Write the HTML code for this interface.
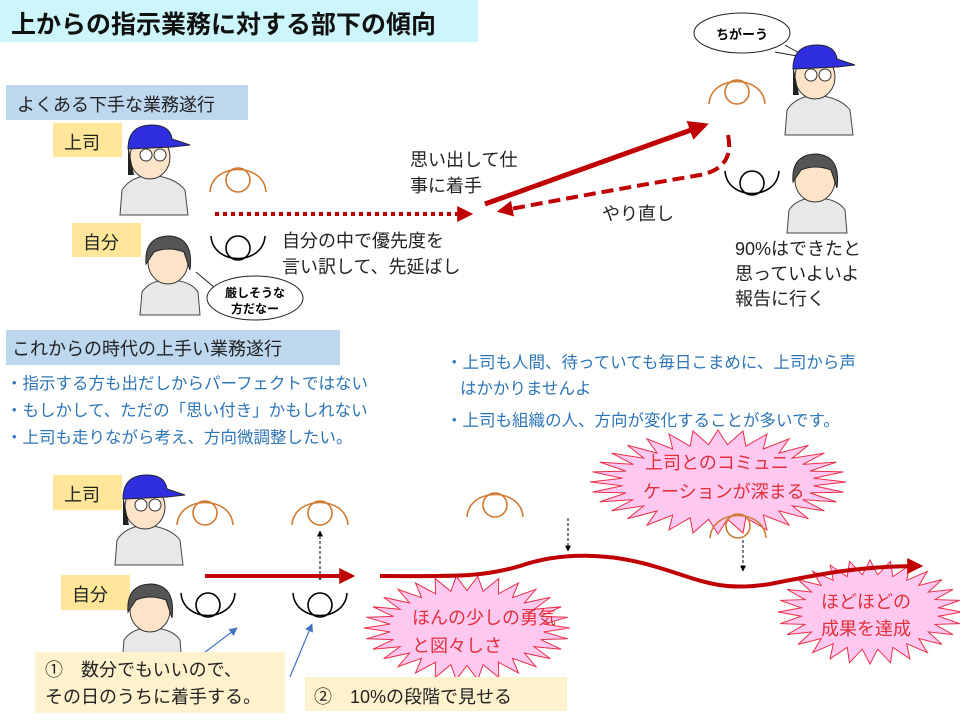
<!DOCTYPE html>
<html><head><meta charset="utf-8">
<style>
body{margin:0;background:#fff;}
svg{display:block;font-family:"Liberation Sans","Noto Sans CJK JP",sans-serif;}
</style></head>
<body>
<svg id="s" width="960" height="720" viewBox="0 0 960 720" xmlns="http://www.w3.org/2000/svg">
<defs>
<marker id="ar" viewBox="0 0 10 10" refX="8" refY="5" markerWidth="4" markerHeight="4" orient="auto"><path d="M0,0L10,5L0,10z" fill="#c00000"/></marker>
<marker id="ak" viewBox="0 0 10 10" refX="9" refY="5" markerWidth="6" markerHeight="6" orient="auto-start-reverse"><path d="M0,0L10,5L0,10z" fill="#000"/></marker>
<marker id="ab" viewBox="0 0 10 10" refX="9" refY="5" markerWidth="7" markerHeight="7" orient="auto"><path d="M0,0L10,5L0,10z" fill="#4472c4"/></marker>
<g id="eyeT" fill="none" stroke="#d07a30" stroke-width="1.6"><circle cx="0" cy="0" r="12"/><path d="M-28,12 C-26,-18 26,-18 28,12"/></g>
<g id="eyeB" fill="none" stroke="#000" stroke-width="1.6"><circle cx="0" cy="0" r="12"/><path d="M-27,-12 C-25,18 25,18 27,-12"/></g>
<g id="boss">
<path d="M-30,80 L-28,55 Q-20,42 0,40 Q25,42 35,55 L38,80 Z" fill="#e8e8e8" stroke="#444"/>
<ellipse cx="0" cy="22" rx="20" ry="22" fill="#fde3c8" stroke="#333"/>
<path d="M-22,14 Q-22,-10 2,-10 Q20,-10 22,4 L40,10 L22,12 Z" fill="#2f2fe0" stroke="#223"/>
<circle cx="-4" cy="20" r="6" fill="#fff" stroke="#333"/><circle cx="10" cy="20" r="6" fill="#fff" stroke="#333"/>
<path d="M-22,10 L-22,40 L-16,40 Z" fill="#222"/>
</g>
<g id="work">
<path d="M-28,75 L-26,52 Q-18,40 0,40 Q22,40 30,52 L32,75 Z" fill="#e8e8e8" stroke="#444"/>
<ellipse cx="0" cy="22" rx="20" ry="22" fill="#fde3c8" stroke="#333"/>
<path d="M-22,24 Q-24,-4 2,-4 Q26,-2 22,30 L16,12 Q0,6 -14,12 Z" fill="#555" stroke="#222"/>
</g>
</defs>

<rect x="0" y="0" width="478" height="42" fill="#ccf6fb"/>
<text x="11" y="33" font-size="25" font-weight="bold" fill="#111">上からの指示業務に対する部下の傾向</text>

<rect x="6" y="85" width="242" height="35" fill="#bdd7ee"/>
<text x="17" y="111" font-size="18" fill="#222">よくある下手な業務遂行</text>
<rect x="53" y="123" width="69" height="34" fill="#ffe699"/>
<text x="64" y="149" font-size="18" fill="#222">上司</text>
<rect x="72" y="223" width="69" height="34" fill="#ffe699"/>
<text x="83" y="249" font-size="18" fill="#222">自分</text>
<use href="#boss" x="150" y="135"/>
<use href="#work" x="168" y="240"/>
<use href="#eyeT" x="238" y="180"/>
<use href="#eyeB" x="238" y="248"/>
<line x1="215" y1="214" x2="470" y2="214" stroke="#c00000" stroke-width="4" stroke-dasharray="4,4" marker-end="url(#ar)"/>
<text x="282" y="247" font-size="18" fill="#222">自分の中で優先度を</text>
<text x="282" y="273" font-size="18" fill="#222">言い訳して、先延ばし</text>
<path d="M196,272 L215,288" stroke="#222" fill="none"/>
<ellipse cx="255" cy="298" rx="48" ry="22" fill="#fff" stroke="#222"/>
<text x="255" y="297" font-size="12" font-weight="bold" text-anchor="middle">厳しそうな</text>
<text x="255" y="313" font-size="12" font-weight="bold" text-anchor="middle">方だなー</text>

<text x="410" y="166" font-size="18" fill="#222">思い出して仕</text>
<text x="410" y="192" font-size="18" fill="#222">事に着手</text>
<line x1="485" y1="204" x2="705" y2="125" stroke="#c00000" stroke-width="5" marker-end="url(#ar)"/>
<path d="M728,135 Q735,168 700,175 Q600,192 500,211" fill="none" stroke="#c00000" stroke-width="4" stroke-dasharray="12,6" marker-end="url(#ar)"/>
<text x="602" y="220" font-size="18" fill="#222">やり直し</text>

<ellipse cx="742" cy="33" rx="48" ry="20" fill="#fff" stroke="#222"/>
<path d="M785,45 L808,58 L775,52" fill="#fff" stroke="#222"/>
<text x="742" y="39" font-size="13" font-weight="bold" text-anchor="middle">ちがーう</text>
<use href="#eyeT" x="737" y="92"/>
<use href="#boss" x="815" y="55"/>
<use href="#eyeB" x="752" y="183"/>
<use href="#work" x="815" y="158"/>
<text x="735" y="255" font-size="18" fill="#222">90%はできたと</text>
<text x="735" y="280" font-size="18" fill="#222">思っていよいよ</text>
<text x="735" y="305" font-size="18" fill="#222">報告に行く</text>

<rect x="6" y="330" width="334" height="35" fill="#bdd7ee"/>
<text x="12" y="355" font-size="18" fill="#222">これからの時代の上手い業務遂行</text>
<g font-size="16.5" fill="#2e75b6">
<text x="6" y="389">・指示する方も出だしからパーフェクトではない</text>
<text x="6" y="416">・もしかして、ただの「思い付き」かもしれない</text>
<text x="6" y="443">・上司も走りながら考え、方向微調整したい。</text>
<text x="446" y="368">・上司も人間、待っていても毎日こまめに、上司から声</text>
<text x="460" y="394">はかかりませんよ</text>
<text x="446" y="426">・上司も組織の人、方向が変化することが多いです。</text>
</g>

<g id="bursts" fill="#ffc8f0" stroke="#e8304a" stroke-width="1"></g>

<rect x="53" y="475" width="69" height="35" fill="#ffe699"/>
<text x="64" y="501" font-size="18" fill="#222">上司</text>
<rect x="61" y="575" width="69" height="35" fill="#ffe699"/>
<text x="72" y="601" font-size="18" fill="#222">自分</text>
<use href="#boss" x="145" y="485"/>
<use href="#work" x="150" y="588"/>
<use href="#eyeT" x="205" y="513"/>
<use href="#eyeT" x="320" y="513"/>
<use href="#eyeT" x="495" y="505"/>
<use href="#eyeT" x="738" y="526"/>
<use href="#eyeB" x="208" y="605"/>
<use href="#eyeB" x="320" y="605"/>
<line x1="320" y1="531" x2="320" y2="580" stroke="#000" stroke-dasharray="3,2" marker-start="url(#ak)" marker-end="url(#ak)"/>
<line x1="568" y1="518" x2="568" y2="551" stroke="#000" stroke-dasharray="3,2" marker-end="url(#ak)"/>
<line x1="743" y1="540" x2="743" y2="571" stroke="#000" stroke-dasharray="3,2" marker-end="url(#ak)"/>
<line x1="205" y1="576" x2="352" y2="576" stroke="#c00000" stroke-width="4" marker-end="url(#ar)"/>
<path d="M380,576 C450,576 480,578 520,566 C560,552 610,552 660,568 C700,580 720,592 770,584 C820,574 860,566 920,566" fill="none" stroke="#c00000" stroke-width="4" marker-end="url(#ar)"/>
<g font-size="18" fill="#e0303a">
<text x="412" y="624">ほんの少しの勇気</text>
<text x="412" y="652">と図々しさ</text>
<text x="645" y="469">上司とのコミュニ</text>
<text x="643" y="498">ケーションが深まる</text>
<text x="821" y="608">ほどほどの</text>
<text x="821" y="635">成果を達成</text>
</g>

<line x1="200" y1="656" x2="237" y2="628" stroke="#4472c4" stroke-width="1.2" marker-end="url(#ab)"/>
<line x1="290" y1="677" x2="312" y2="624" stroke="#4472c4" stroke-width="1.2" marker-end="url(#ab)"/>
<rect x="35" y="652" width="250" height="61" fill="#fff2cc"/>
<text x="45" y="676" font-size="18" fill="#222">①　数分でもいいので、</text>
<text x="45" y="703" font-size="18" fill="#222">その日のうちに着手する。</text>
<rect x="305" y="677" width="262" height="34" fill="#fff2cc"/>
<text x="314" y="703" font-size="18" fill="#222">②　10%の段階で見せる</text>
</svg>
<script>
(function(){
var g=document.getElementById('bursts');
function burst(cx,cy,rx,ry,n){
 var p=[];
 for(var i=0;i<n*2;i++){
  var a=Math.PI*i/n, o=(i%2==0);
  p.push((cx+Math.cos(a)*rx*(o?1:0.75)).toFixed(1)+','+(cy+Math.sin(a)*ry*(o?1:0.72)).toFixed(1));
 }
 var el=document.createElementNS('http://www.w3.org/2000/svg','polygon');
 el.setAttribute('points',p.join(' '));
 g.appendChild(el);
}
burst(467,628,103,52,30);
burst(718,482,128,52,32);
burst(870,612,92,52,28);
})();
</script>
</body></html>
